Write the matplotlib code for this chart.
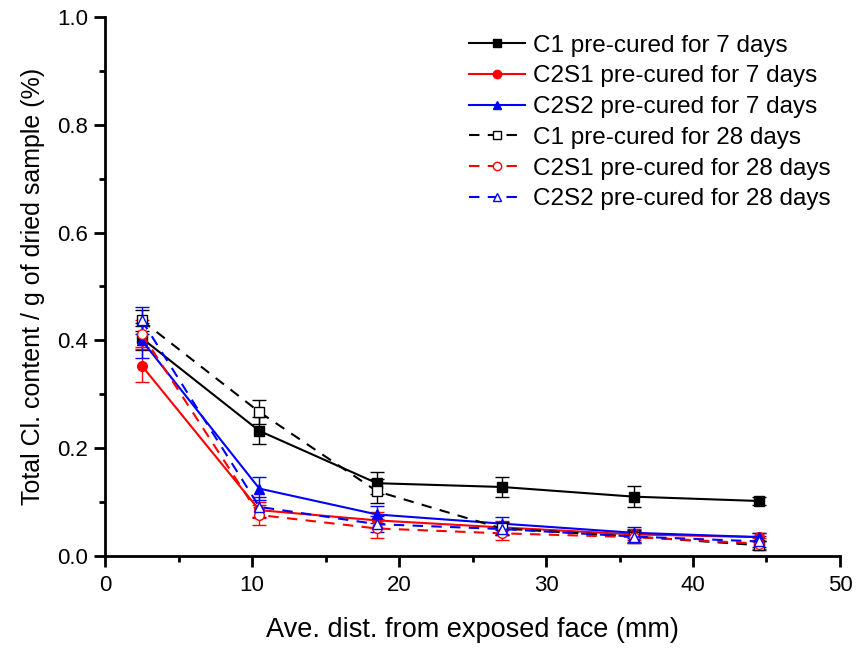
import matplotlib
matplotlib.use("Agg")
import matplotlib.pyplot as plt
from matplotlib.lines import Line2D
from matplotlib.ticker import MultipleLocator

plt.rcParams['font.family'] = ['Liberation Sans', 'DejaVu Sans']

depth = [2.5, 10.5, 18.5, 27.0, 36.0, 44.5]

c1_7 = [0.404, 0.232, 0.135, 0.128, 0.110, 0.102]
c1_7_err = [0.022, 0.025, 0.020, 0.019, 0.020, 0.008]
c2s1_7 = [0.353, 0.085, 0.066, 0.053, 0.040, 0.035]
c2s1_7_err = [0.030, 0.015, 0.015, 0.012, 0.010, 0.008]
c2s2_7 = [0.400, 0.125, 0.077, 0.060, 0.043, 0.035]
c2s2_7_err = [0.033, 0.022, 0.015, 0.012, 0.010, 0.008]

c1_28 = [0.437, 0.267, 0.120, 0.051, 0.036, 0.020]
c1_28_err = [0.020, 0.023, 0.022, 0.012, 0.012, 0.008]
c2s1_28 = [0.412, 0.076, 0.051, 0.042, 0.035, 0.023]
c2s1_28_err = [0.025, 0.018, 0.018, 0.012, 0.010, 0.010]
c2s2_28 = [0.437, 0.091, 0.059, 0.050, 0.036, 0.027]
c2s2_28_err = [0.025, 0.018, 0.015, 0.012, 0.010, 0.010]

labels = ["C1 pre-cured for 7 days", "C2S1 pre-cured for 7 days",
          "C2S2 pre-cured for 7 days", "C1 pre-cured for 28 days",
          "C2S1 pre-cured for 28 days", "C2S2 pre-cured for 28 days"]

series = [
    (c1_7, c1_7_err, 'black', 's', '-', 'black'),
    (c2s1_7, c2s1_7_err, 'red', 'o', '-', 'red'),
    (c2s2_7, c2s2_7_err, 'blue', '^', '-', 'blue'),
    (c1_28, c1_28_err, 'black', 's', '--', 'white'),
    (c2s1_28, c2s1_28_err, 'red', 'o', '--', 'white'),
    (c2s2_28, c2s2_28_err, 'blue', '^', '--', 'white'),
]

fig = plt.figure(figsize=(8.56, 6.48), dpi=100)
ax = fig.add_axes([0.1227, 0.142, 0.8586, 0.832])

handles = []
for (vals, err, col, mk, ls, fc), lab in zip(series, labels):
    line_kw = dict(color=col, linewidth=1.5)
    if ls == '--':
        line_kw['dashes'] = (5, 4)
    ax.errorbar(depth, vals, yerr=err, marker=mk, linestyle='-',
                markerfacecolor=fc, markeredgecolor=col, markersize=7,
                elinewidth=1.0, capsize=5, capthick=1.0, **line_kw)
    handles.append(Line2D([], [], marker=mk, markerfacecolor=fc,
                          markeredgecolor=col, markersize=6, **line_kw))

ax.set_xlim(0, 50)
ax.set_ylim(0, 1.0)
ax.xaxis.set_major_locator(MultipleLocator(10))
ax.xaxis.set_minor_locator(MultipleLocator(5))
ax.yaxis.set_major_locator(MultipleLocator(0.2))
ax.yaxis.set_minor_locator(MultipleLocator(0.1))
ax.yaxis.set_major_formatter(plt.FuncFormatter(lambda v, p: f"{v:.1f}"))

for s in ['top', 'right']:
    ax.spines[s].set_visible(False)
for s in ['left', 'bottom']:
    ax.spines[s].set_linewidth(2)

ax.tick_params(which='major', direction='out', length=8, width=2,
               labelsize=16, pad=4)
ax.tick_params(axis='x', which='major', pad=6)
ax.tick_params(which='minor', direction='out', length=4.5, width=2)

ax.set_xlabel("Ave. dist. from exposed face (mm)", fontsize=19.5, labelpad=15)
ax.set_ylabel("Total Cl. content / g of dried sample (%)", fontsize=18,
              labelpad=9)

ax.legend(handles, labels, loc='upper right', frameon=False, fontsize=17.5,
          handlelength=2.3, handletextpad=0.3, labelspacing=0.36,
          borderaxespad=0.0, bbox_to_anchor=(1.0, 0.985))

fig.savefig("out.png", dpi=100)
